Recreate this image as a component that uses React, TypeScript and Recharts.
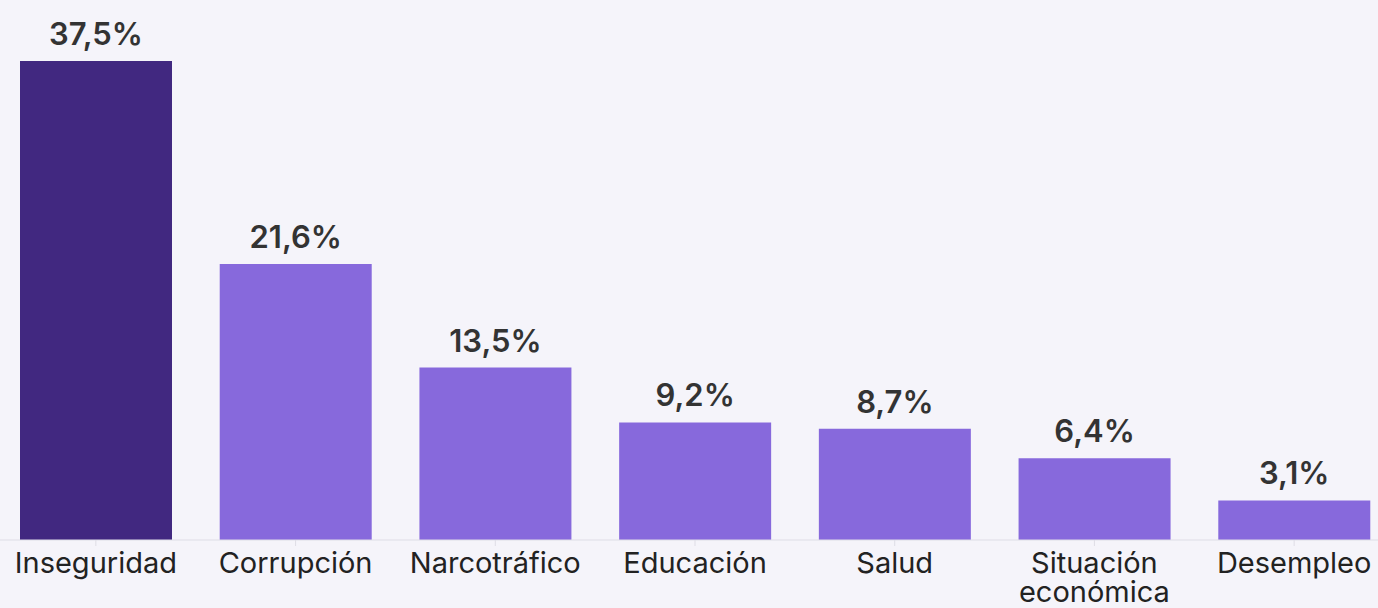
import React from 'react';
import { BarChart, Bar, XAxis, YAxis, Cell, LabelList } from 'recharts';

const categories = ['Inseguridad', 'Corrupción', 'Narcotráfico', 'Educación', 'Salud', 'Situación económica', 'Desempleo'];
const values = [37.5, 21.6, 13.5, 9.2, 8.7, 6.4, 3.1];
const valueLabels = ['37,5%', '21,6%', '13,5%', '9,2%', '8,7%', '6,4%', '3,1%'];

const data = categories.map((name, i) => ({ name, value: values[i], label: valueLabels[i] }));

const FONT = 'Inter, "Noto Sans", sans-serif';

function CategoryTick(props: any) {
  const { x, y, payload } = props;
  const text: string = payload.value;
  const lines = text.includes(' ') ? text.split(' ') : [text];
  return (
    <text x={x} y={y} textAnchor="middle" fill="#222" fontSize={29} fontFamily={FONT}>
      {lines.map((l, i) => (
        <tspan key={i} x={x} dy={i === 0 ? 25 : 29}>{l}</tspan>
      ))}
    </text>
  );
}

export default function App() {
  return (
    <div style={{ position: 'fixed', left: 0, top: 0, width: 1378, height: 608, overflow: 'hidden', background: '#f5f4fa' }}>
      <div style={{ marginLeft: -4 }}>
        <BarChart width={1398} height={608} data={data} margin={{ top: 61, right: 0, bottom: 67, left: 0 }} barCategoryGap={24}>
          <XAxis
            dataKey="name"
            height={1}
            axisLine={{ stroke: '#dedde6' }}
            tickLine={{ stroke: '#dedde6' }}
            tickSize={6}
            tickMargin={2}
            interval={0}
            tick={<CategoryTick />}
          />
          <YAxis hide domain={[0, 37.5]} />
          <Bar dataKey="value" isAnimationActive={false}>
            {data.map((d, i) => (
              <Cell key={d.name} fill={i === 0 ? '#412880' : '#8769dc'} />
            ))}
            <LabelList dataKey="label" position="top" offset={16} fill="#333" fontSize={31} fontWeight={600} fontFamily={FONT} />
          </Bar>
        </BarChart>
      </div>
    </div>
  );
}
